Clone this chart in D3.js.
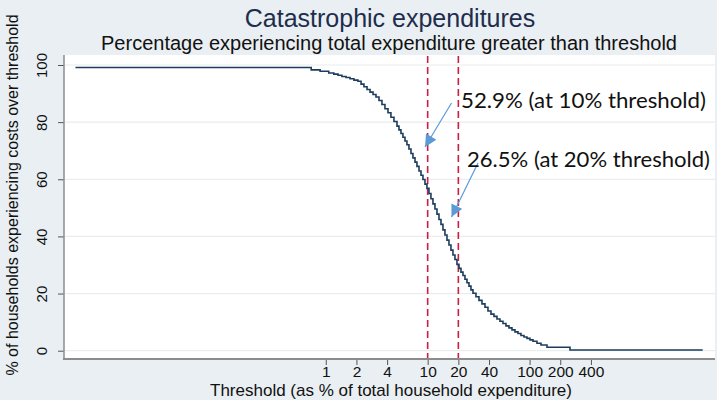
<!DOCTYPE html>
<html>
<head>
<meta charset="utf-8">
<script src="https://cdn.jsdelivr.net/npm/d3@7"></script>
<style>
  body { margin: 0; background: #e9eff2; }
  svg { display: block; font-family: "Liberation Sans", Arial, sans-serif; }
</style>
</head>
<body>
<div id="chart"></div>
<script>
// threshold (% of total household expenditure) where the share drops to the next value
var thresholds = [0.0035, 0.72, 0.88, 1.07, 1.2, 1.32, 1.44, 1.58, 1.73, 1.89, 2.07,
  2.22, 2.37, 2.54, 2.72, 2.91, 3.11, 3.33, 3.56, 3.81, 4.08, 4.36, 4.67, 5.0,
  5.23, 5.47, 5.72, 5.99, 6.26, 6.55, 6.86, 7.17, 7.51, 7.85, 8.22, 8.6, 8.99, 9.41, 9.84,
  10.3, 10.77, 11.27, 11.79, 12.34, 12.91, 13.51, 14.13, 14.78, 15.47,
  16.18, 16.93, 17.71, 18.53, 19.39, 20.29, 21.22, 22.21, 23.23, 24.31, 25.43, 26.6, 27.84,
  29.79, 31.87, 34.12, 36.51, 39.06, 41.8, 44.73, 47.87, 51.22, 54.81, 58.66,
  62.77, 67.19, 71.89, 76.94, 82.33, 88.1, 94.29, 100.9, 108, 118.2, 129.4, 148.2, 249.2, 5000];
// % of households whose spending is above that threshold
var pctOver = [99.1, 98.3, 97.8, 97.2, 96.8, 96.4, 96.0, 95.6, 95.2, 94.7, 94.3,
  93.3, 92.4, 91.4, 90.5, 89.7, 88.8, 87.6, 86.2, 84.7, 83.3, 81.7, 80.2, 78.6,
  77.3, 76.0, 74.7, 73.4, 72.1, 70.6, 69.0, 67.5, 66.0, 64.5, 62.9, 61.4, 59.9, 58.3, 56.8,
  55.0, 53.2, 51.4, 49.6, 47.8, 45.9, 44.2, 42.3, 40.5, 38.7,
  37.0, 35.2, 33.5, 31.9, 30.2, 28.8, 27.5, 26.3, 25.0, 23.8, 22.6, 21.3, 20.1,
  18.9, 17.6, 16.4, 15.2, 13.9, 12.8, 12.0, 11.1, 10.3, 9.5, 8.7,
  8.0, 7.3, 6.6, 6.0, 5.3, 4.8, 4.3, 3.8, 3.3, 2.6, 2.0, 1.2, 0.25, 0.25];

var xTicks = [1, 2, 4, 10, 20, 40, 100, 200, 400];
var yTicks = [0, 20, 40, 60, 80, 100];
var refLines = [10, 20];
var notes = ["52.9% (at 10% threshold)", "26.5% (at 20% threshold)"];

var w = 717;
var h = 400;

var svg = d3.select("#chart")
  .append("svg")
  .attr("width", w)
  .attr("height", h);

var x = d3.scaleLog().domain([0.0027, 6600]).range([64, 715]);
var y = d3.scaleLinear().domain([0, 100]).range([350.7, 65]);

// plot region
svg.append("rect")
  .attr("x", 64).attr("y", 55)
  .attr("width", 651).attr("height", 304)
  .attr("fill", "#fff");

// gridlines
svg.selectAll(".grid")
  .data(yTicks)
  .enter()
  .append("line")
  .attr("x1", 65).attr("x2", 715)
  .attr("y1", function(d) { return y(d); })
  .attr("y2", function(d) { return y(d); })
  .attr("stroke", "#eaeded")
  .attr("stroke-width", 1.2);

// y axis
var gy = svg.append("g")
  .attr("transform", "translate(64,0)")
  .call(d3.axisLeft(y).tickValues(yTicks).tickSize(6).tickFormat(d3.format("d")));
gy.select(".domain").remove();
gy.selectAll("line").attr("stroke", "#555");
gy.selectAll("text")
  .attr("x", 0).attr("dy", null)
  .attr("transform", "translate(-17,0) rotate(-90)")
  .attr("text-anchor", "middle")
  .attr("font-size", 15)
  .attr("font-family", "Liberation Sans, Arial, sans-serif")
  .attr("fill", "#111");

// x axis
var gx = svg.append("g")
  .attr("transform", "translate(0,359)")
  .call(d3.axisBottom(x).tickValues(xTicks).tickSize(6).tickFormat(d3.format("d")));
gx.select(".domain").remove();
gx.selectAll("line").attr("stroke", "#555");
gx.selectAll("text")
  .attr("y", 7)
  .attr("font-size", 15.5)
  .attr("font-family", "Liberation Sans, Arial, sans-serif")
  .attr("fill", "#111");

// frame lines
svg.append("line")
  .attr("x1", 64).attr("x2", 64).attr("y1", 55).attr("y2", 360)
  .attr("stroke", "#8c8c8c").attr("stroke-width", 1.5);
svg.append("line")
  .attr("x1", 63).attr("x2", 715).attr("y1", 359).attr("y2", 359)
  .attr("stroke", "#8c8c8c").attr("stroke-width", 1.8);

// threshold lines
svg.selectAll(".ref")
  .data(refLines)
  .enter()
  .append("line")
  .attr("x1", function(d) { return x(d); })
  .attr("x2", function(d) { return x(d); })
  .attr("y1", 56).attr("y2", 358)
  .attr("stroke", "#cc1f45")
  .attr("stroke-width", 1.6)
  .attr("stroke-dasharray", "7,4");

// curve
var pts = thresholds.map(function(t, i) { return [t, pctOver[i]]; });
var line = d3.line()
  .x(function(d) { return x(d[0]); })
  .y(function(d) { return y(d[1]); })
  .curve(d3.curveStepAfter);
svg.append("path")
  .datum(pts)
  .attr("d", line)
  .attr("fill", "none")
  .attr("stroke", "#1d3c5e")
  .attr("stroke-width", 1.6);

// annotation arrows
svg.append("defs").append("marker")
  .attr("id", "head")
  .attr("viewBox", "0 0 10 10")
  .attr("refX", 10).attr("refY", 5)
  .attr("markerWidth", 13).attr("markerHeight", 12)
  .attr("markerUnits", "userSpaceOnUse")
  .attr("orient", "auto")
  .append("path")
  .attr("d", "M0,0 L10,5 L0,10 z")
  .attr("fill", "#5b9bd5");

var arrows = [[451.5, 103, 425, 147], [478, 163, 451.5, 217]];
svg.selectAll(".arrow")
  .data(arrows)
  .enter()
  .append("line")
  .attr("x1", function(d) { return d[0]; })
  .attr("y1", function(d) { return d[1]; })
  .attr("x2", function(d) { return d[2]; })
  .attr("y2", function(d) { return d[3]; })
  .attr("stroke", "#5b9bd5")
  .attr("stroke-width", 1.2)
  .attr("marker-end", "url(#head)");

var notePos = [[461, 108, 245], [467, 167, 243]];
svg.selectAll(".note")
  .data(notes)
  .enter()
  .append("text")
  .attr("x", function(d, i) { return notePos[i][0]; })
  .attr("y", function(d, i) { return notePos[i][1]; })
  .attr("textLength", function(d, i) { return notePos[i][2]; })
  .attr("lengthAdjust", "spacingAndGlyphs")
  .attr("font-family", "Lato, 'Open Sans', sans-serif")
  .attr("font-size", 21.5)
  .attr("fill", "#111")
  .text(function(d) { return d; });

// titles
svg.append("text")
  .attr("x", 390).attr("y", 27)
  .attr("text-anchor", "middle")
  .attr("font-size", 25)
  .attr("fill", "#1e2d4d")
  .text("Catastrophic expenditures");

svg.append("text")
  .attr("x", 389).attr("y", 50)
  .attr("text-anchor", "middle")
  .attr("font-size", 20)
  .attr("fill", "#111")
  .text("Percentage experiencing total expenditure greater than threshold");

svg.append("text")
  .attr("x", 391).attr("y", 396)
  .attr("text-anchor", "middle")
  .attr("font-size", 17)
  .attr("fill", "#111")
  .text("Threshold (as % of total household expenditure)");

svg.append("text")
  .attr("transform", "translate(18,195) rotate(-90)")
  .attr("text-anchor", "middle")
  .attr("font-size", 16)
  .attr("fill", "#111")
  .text("% of households experiencing costs over threshold");
</script>
</body>
</html>
